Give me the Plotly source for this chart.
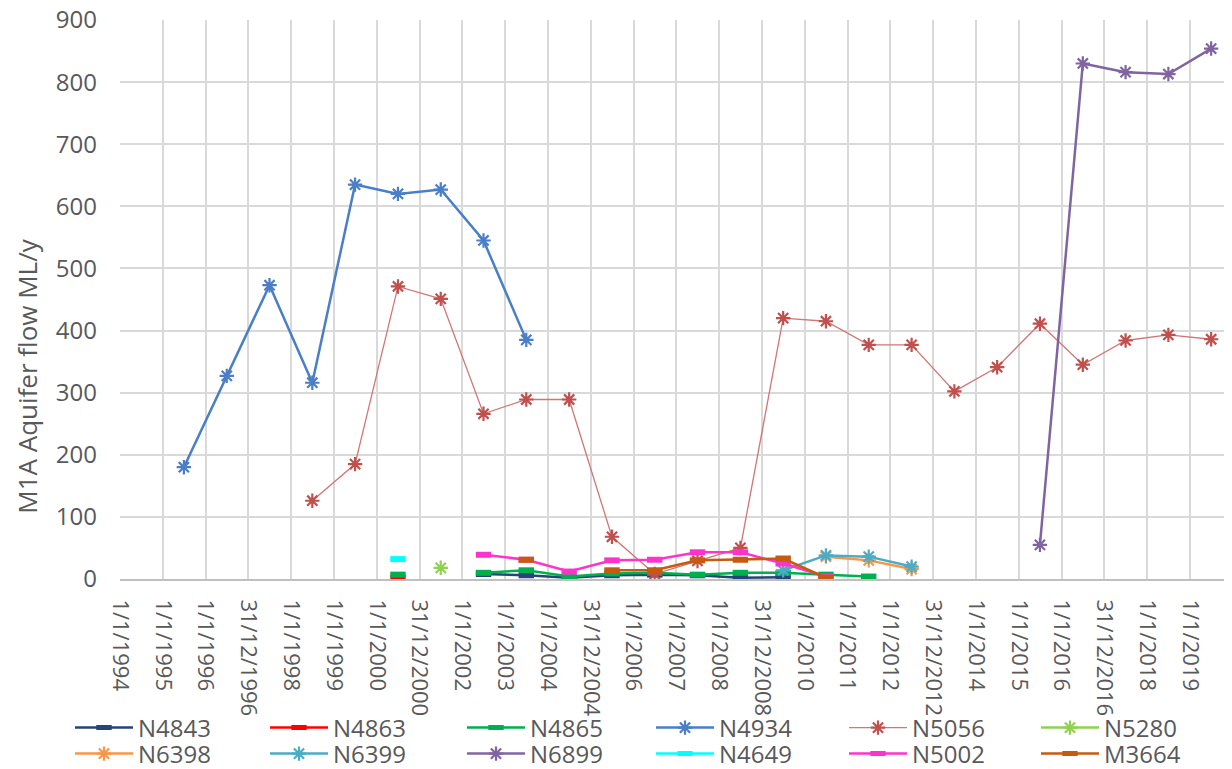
import datetime as dt
import plotly.graph_objects as go

# ---------------- data ----------------
years = list(range(1995, 2020))  # water years, plotted at 30 June

N4843 = [None]*7 + [8, 6, 2, 6, 7, 6, 2, 3] + [None]*10
N4863 = [None]*5 + [2] + [None]*19
N4865 = [None]*5 + [7, None, 10, 14, 4, 9, 10, 7, 10, 10, 7, 4] + [None]*8
N4934 = [180, 327, 473, 316, 635, 620, 627, 545, 385] + [None]*16
N5056 = [None]*3 + [126, 185, 471, 451, 266, 289, 289, 68, 8, 29, 50, 420, 415,
                    377, 377, 302, 341, 411, 345, 384, 393, 386]
N5280 = [None]*6 + [18] + [None]*18
N6398 = [None]*15 + [36, 30, 16] + [None]*7
N6399 = [None]*14 + [14, 38, 36, 20] + [None]*7
N6899 = [None]*20 + [55, 830, 816, 813, 854]
N4649 = [None]*5 + [32] + [None]*19
N5002 = [None]*7 + [39, 31, 12, 30, 31, 43, 43, 25, 4] + [None]*9
M3664 = [None]*8 + [31, None, 14, 14, 30, 31, 33, 2] + [None]*9

series_names = ["N4843", "N4863", "N4865", "N4934", "N5056", "N5280",
                "N6398", "N6399", "N6899", "N4649", "N5002", "M3664"]
series_values = [N4843, N4863, N4865, N4934, N5056, N5280,
                 N6398, N6399, N6899, N4649, N5002, M3664]

x_tick_labels = ["1/1/1994", "1/1/1995", "1/1/1996", "31/12/1996", "1/1/1998",
                 "1/1/1999", "1/1/2000", "31/12/2000", "1/1/2002", "1/1/2003",
                 "1/1/2004", "31/12/2004", "1/1/2006", "1/1/2007", "1/1/2008",
                 "31/12/2008", "1/1/2010", "1/1/2011", "1/1/2012", "31/12/2012",
                 "1/1/2014", "1/1/2015", "1/1/2016", "31/12/2016", "1/1/2018",
                 "1/1/2019"]
y_tick_values = [0, 100, 200, 300, 400, 500, 600, 700, 800, 900]

# ---------------- styles ----------------
styles = {
    "N4843": dict(color="#264478", lw=2.5, sym="rect"),
    "N4863": dict(color="#FF0000", lw=2.5, sym="rect"),
    "N4865": dict(color="#00B050", lw=2.5, sym="rect"),
    "N4934": dict(color="#4A7EC6", lw=2.5, sym="star"),
    "N5056": dict(color="#C0504D", lw=1.3, sym="star", linecolor="#CF7774"),
    "N5280": dict(color="#92D050", lw=2.5, sym="star"),
    "N6398": dict(color="#F79646", lw=2.5, sym="star"),
    "N6399": dict(color="#4BACC6", lw=2.5, sym="star"),
    "N6899": dict(color="#8064A2", lw=2.5, sym="star"),
    "N4649": dict(color="#00FFFF", lw=2.5, sym="rect"),
    "N5002": dict(color="#FF33CC", lw=2.5, sym="rect"),
    "M3664": dict(color="#C55A11", lw=2.5, sym="rect"),
}

# legend grid (page pixels of each entry's symbol start, row centres)
legend_cols_px = [77, 272, 469, 658, 851, 1043]
legend_rows_px = [728, 754]

def d(s):
    dd, mm, yy = s.split("/")
    return dt.date(int(yy), int(mm), int(dd))

x_dates = [dt.date(y, 6, 30) for y in years]
tickvals = [d(s) for s in x_tick_labels]

FONT = "Open Sans"
GREY = "#595959"
FIG_W, FIG_H, PAGE_OFF = 1224, 761, 8   # page body has an 8px margin

fig = go.Figure()
legends = {}
for i, (name, vals) in enumerate(zip(series_names, series_values)):
    st = styles[name]
    if st["sym"] == "rect":
        marker = dict(symbol="line-ew", size=11,
                      line=dict(width=6, color=st["color"]), color=st["color"])
    else:
        marker = dict(symbol="asterisk-open", size=12,
                      line=dict(width=2.2, color=st["color"]), color=st["color"])
    lname = "legend" if i == 0 else f"legend{i+1}"
    fig.add_trace(go.Scatter(
        x=x_dates, y=vals, name=name, mode="lines+markers",
        line=dict(color=st.get("linecolor", st["color"]), width=st["lw"]),
        marker=marker, connectgaps=False, legend=lname,
    ))
    col, row = i % 6, i // 6
    legends[lname] = dict(
        orientation="h", xref="container", yref="container",
        x=(legend_cols_px[col] - PAGE_OFF - 7) / FIG_W,
        y=1 - (legend_rows_px[row] - PAGE_OFF) / FIG_H,
        xanchor="left", yanchor="middle", itemwidth=58,
        font=dict(size=24, color=GREY, family=FONT),
        bgcolor="rgba(0,0,0,0)",
    )

fig.update_layout(
    width=FIG_W, height=FIG_H,
    paper_bgcolor="white", plot_bgcolor="white",
    margin=dict(l=112, r=0, t=12, b=190, autoexpand=False),
    font=dict(family=FONT, color=GREY, size=22),
    showlegend=True,
    annotations=[dict(
        text="M1A Aquifer flow ML/y", xref="paper", yref="paper",
        x=-0.084, y=0.363, textangle=-90, showarrow=False,
        font=dict(size=26, color=GREY, family=FONT),
        xanchor="center", yanchor="middle",
    )],
    **legends,
)

fig.update_xaxes(
    type="date",
    range=[dt.date(1994, 1, 1), dt.date(2019, 12, 25)],
    tickmode="array", tickvals=tickvals, ticktext=x_tick_labels,
    tickangle=90, tickfont=dict(size=22, color=GREY, family=FONT),
    showgrid=True, gridcolor="#D9D9D9", gridwidth=2,
    showline=True, linecolor="#BFBFBF", linewidth=2,
    ticks="", ticklabelstandoff=14, automargin=False, zeroline=False,
)
fig.update_yaxes(
    range=[0, 900], tickmode="array", tickvals=y_tick_values,
    tickfont=dict(size=24, color=GREY, family=FONT),
    showgrid=True, gridcolor="#D9D9D9", gridwidth=2,
    showline=False, zeroline=False, ticks="", ticklabelstandoff=22,
    ticklabeloverflow="allow", automargin=False,
)

fig.write_html("out.html")
